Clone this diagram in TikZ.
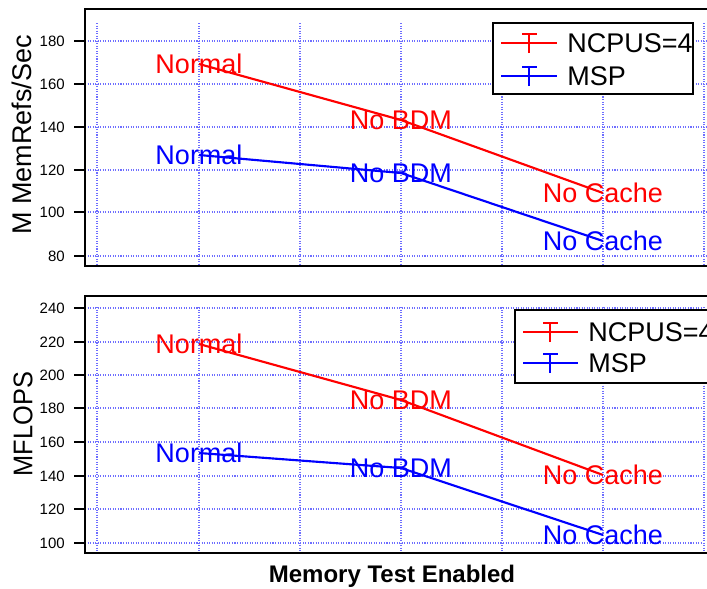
\documentclass[tikz,border=0pt]{standalone}
\usepackage{fontspec}
\setmainfont{Liberation Sans}
\usepackage{tikz}
\usetikzlibrary{positioning}
\definecolor{gridblue}{RGB}{110,110,255}

\begin{document}
\begin{tikzpicture}[x=0.75pt,y=-0.75pt]
                \tikzset{gridline/.style = {gridblue, line width=0.8pt, dash pattern=on 0.8pt off 1.1pt}}
                \tikzset{frame/.style = {black, line width=1.1pt}}
                \tikzset{tickmark/.style = {black, line width=1.1pt}}
                \tikzset{ticklabel/.style = {anchor=east, inner sep=0pt, font=\fontsize{11.25}{13}\selectfont}}
                \tikzset{datalabel/.style = {inner sep=0pt, font=\fontsize{20.25}{24}\selectfont}}
                \tikzset{dataline/.style = {line width=1.6pt}}
                \tikzset{legendtext/.style = {anchor=west, inner sep=0pt, font=\fontsize{20.25}{24}\selectfont}}

                \path[use as bounding box] (0,0) rectangle (707,589);
                \clip (0,0) rectangle (707,589);

                % top panel: grid
                \draw[gridline] (97,23) -- (97,266);
                \draw[gridline] (199,23) -- (199,266);
                \draw[gridline] (300,23) -- (300,266);
                \draw[gridline] (401,23) -- (401,266);
                \draw[gridline] (502,23) -- (502,266);
                \draw[gridline] (603,23) -- (603,266);
                \draw[gridline] (704,23) -- (704,266);

                \draw[gridline] (85,41) -- (707,41);
                \draw[gridline] (85,84) -- (707,84);
                \draw[gridline] (85,127) -- (707,127);
                \draw[gridline] (85,170) -- (707,170);
                \draw[gridline] (85,212) -- (707,212);
                \draw[gridline] (85,256) -- (707,256);

                \draw[frame] (85,9) rectangle (720,266);

                % top panel: ticks
                \node[ticklabel] (mem180) at (65,41) {180};
                \node[ticklabel] (mem160) at (65,84) {160};
                \node[ticklabel] (mem140) at (65,127) {140};
                \node[ticklabel] (mem120) at (65,170) {120};
                \node[ticklabel] (mem100) at (65,212) {100};
                \node[ticklabel] (mem80) at (65,256) {80};

                \draw[tickmark] (74,41) -- (85,41);
                \draw[tickmark] (74,84) -- (85,84);
                \draw[tickmark] (74,127) -- (85,127);
                \draw[tickmark] (74,170) -- (85,170);
                \draw[tickmark] (74,212) -- (85,212);
                \draw[tickmark] (74,256) -- (85,256);

                \node[rotate=90, inner sep=0pt, font=\fontsize{20.25}{24}\selectfont] (memaxis) at (22,135) {M MemRefs/Sec};

                % top panel: legend
                \draw[frame, fill=white] (493,23) rectangle (693,94);
                \coordinate (memkeyAw) at (501,43);
                \coordinate (memkeyAe) at (557,43);
                \coordinate (memkeyBw) at (501,76);
                \coordinate (memkeyBe) at (557,76);
                \draw[dataline, red] (memkeyAw) -- (memkeyAe);
                \draw[line width=1.3pt, red] (529,53) -- (529,34) (522,34) -- (537,34);
                \draw[dataline, blue] (memkeyBw) -- (memkeyBe);
                \draw[line width=1.3pt, blue] (529,86) -- (529,67) (522,67) -- (537,67);
                \node[legendtext] (memkeyA) at (567,43) {NCPUS=4};
                \node[legendtext] (memkeyB) at (567,76) {MSP};

                % top panel: data
                \node[datalabel, red] (memncpu1) at (199,64) {Normal};
                \node[datalabel, red] (memncpu2) at (401,120) {No BDM};
                \node[datalabel, red] (memncpu3) at (603,193) {No Cache};
                \node[datalabel, blue] (memmsp1) at (199,155) {Normal};
                \node[datalabel, blue] (memmsp2) at (401,173) {No BDM};
                \node[datalabel, blue] (memmsp3) at (603,241) {No Cache};

                \draw[dataline, red] (memncpu1.center) -- (memncpu2.center) -- (memncpu3.center);
                \draw[dataline, blue] (memmsp1.center) -- (memmsp2.center) -- (memmsp3.center);

                % bottom panel: grid
                \draw[gridline] (97,307) -- (97,553);
                \draw[gridline] (199,307) -- (199,553);
                \draw[gridline] (300,307) -- (300,553);
                \draw[gridline] (401,307) -- (401,553);
                \draw[gridline] (502,307) -- (502,553);
                \draw[gridline] (603,307) -- (603,553);
                \draw[gridline] (704,307) -- (704,553);

                \draw[gridline] (85,308) -- (703,308);
                \draw[gridline] (85,342) -- (703,342);
                \draw[gridline] (85,375) -- (703,375);
                \draw[gridline] (85,408) -- (703,408);
                \draw[gridline] (85,442) -- (703,442);
                \draw[gridline] (85,476) -- (703,476);
                \draw[gridline] (85,509) -- (703,509);
                \draw[gridline] (85,543) -- (703,543);

                \draw[frame] (85,296) rectangle (720,553);

                % bottom panel: ticks
                \node[ticklabel] (flops240) at (65,308) {240};
                \node[ticklabel] (flops220) at (65,342) {220};
                \node[ticklabel] (flops200) at (65,375) {200};
                \node[ticklabel] (flops180) at (65,408) {180};
                \node[ticklabel] (flops160) at (65,442) {160};
                \node[ticklabel] (flops140) at (65,476) {140};
                \node[ticklabel] (flops120) at (65,509) {120};
                \node[ticklabel] (flops100) at (65,543) {100};

                \draw[tickmark] (74,308) -- (85,308);
                \draw[tickmark] (74,342) -- (85,342);
                \draw[tickmark] (74,375) -- (85,375);
                \draw[tickmark] (74,408) -- (85,408);
                \draw[tickmark] (74,442) -- (85,442);
                \draw[tickmark] (74,476) -- (85,476);
                \draw[tickmark] (74,509) -- (85,509);
                \draw[tickmark] (74,543) -- (85,543);

                \node[rotate=90, inner sep=0pt, font=\fontsize{20.25}{24}\selectfont] (flopsaxis) at (23,424) {\scalebox{0.94}[1]{MFLOPS}};

                % bottom panel: legend
                \draw[frame, fill=white] (515,310) rectangle (720,383);
                \coordinate (flopskeyAw) at (523,332);
                \coordinate (flopskeyAe) at (578,332);
                \coordinate (flopskeyBw) at (523,363);
                \coordinate (flopskeyBe) at (578,363);
                \draw[dataline, red] (flopskeyAw) -- (flopskeyAe);
                \draw[line width=1.3pt, red] (550,342) -- (550,323) (543,323) -- (558,323);
                \draw[dataline, blue] (flopskeyBw) -- (flopskeyBe);
                \draw[line width=1.3pt, blue] (550,373) -- (550,354) (543,354) -- (558,354);
                \node[legendtext] (flopskeyA) at (588,332) {NCPUS=4};
                \node[legendtext] (flopskeyB) at (588,363) {MSP};

                % bottom panel: data
                \node[datalabel, red] (flopsncpu1) at (199,344) {Normal};
                \node[datalabel, red] (flopsncpu2) at (401,400) {No BDM};
                \node[datalabel, red] (flopsncpu3) at (603,475) {No Cache};
                \node[datalabel, blue] (flopsmsp1) at (199,453) {Normal};
                \node[datalabel, blue] (flopsmsp2) at (401,468) {No BDM};
                \node[datalabel, blue] (flopsmsp3) at (603,535) {No Cache};

                \draw[dataline, red] (flopsncpu1.center) -- (flopsncpu2.center) -- (flopsncpu3.center);
                \draw[dataline, blue] (flopsmsp1.center) -- (flopsmsp2.center) -- (flopsmsp3.center);

                \node[inner sep=0pt, font=\bfseries\fontsize{18}{21}\selectfont] (xaxis) at (392,576) {Memory Test Enabled};

\end{tikzpicture}
\end{document}
